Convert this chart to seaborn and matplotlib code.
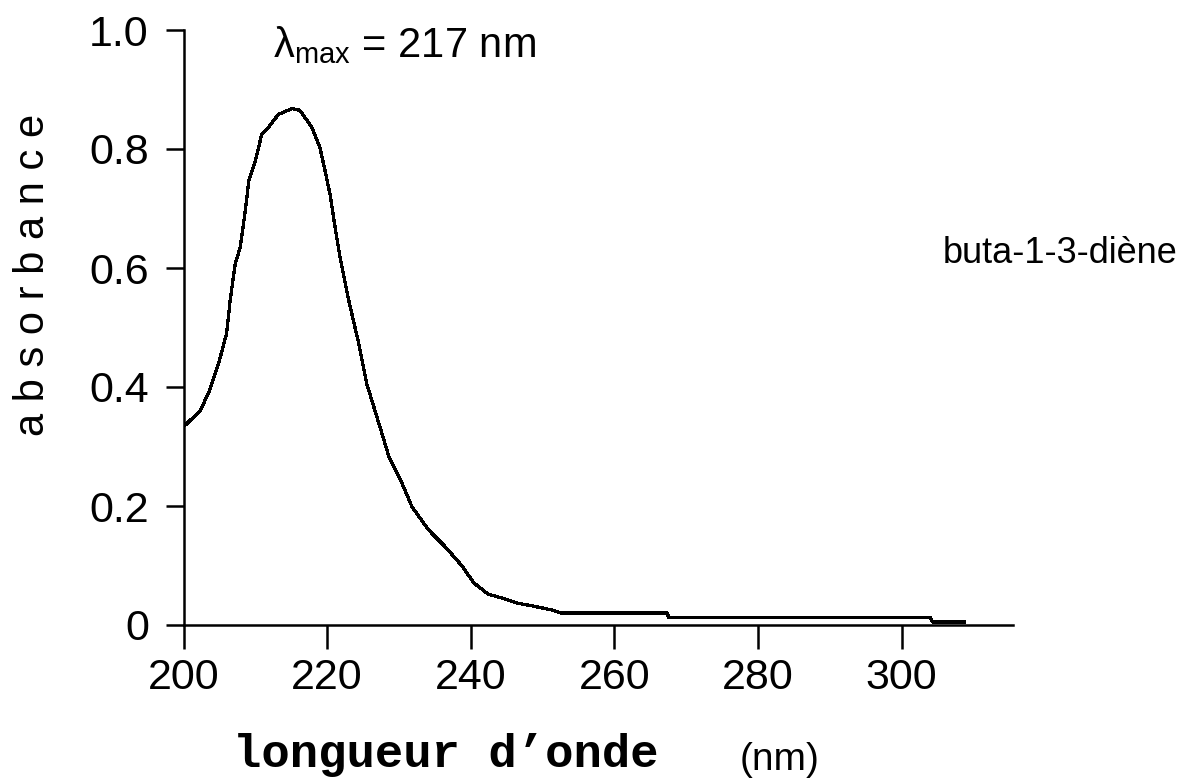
import numpy as np
import seaborn as sns
import matplotlib.pyplot as plt

# ── Data (buta-1,3-diène UV absorption) ──────────────────────────────────
WAVELENGTH = [200.0, 202.3, 203.5, 204.9, 206.0, 206.5, 207.2, 207.9, 208.6,
              209.1, 210.0, 210.9, 211.8, 213.2, 215.1, 216.2, 217.9, 219.0,
              219.7, 220.4, 221.1, 221.8, 223.0, 224.4, 225.5, 227.2, 228.6,
              230.4, 231.8, 234.1, 236.4, 238.8, 240.4, 242.4, 244.7, 246.4,
              248.6, 251.4, 252.6, 267.4, 267.5, 304.0, 304.3, 308.8]
ABSORBANCE = [0.333, 0.360, 0.390, 0.440, 0.490, 0.546, 0.607, 0.635, 0.696,
              0.747, 0.780, 0.825, 0.836, 0.858, 0.868, 0.865, 0.836, 0.802,
              0.764, 0.724, 0.669, 0.618, 0.546, 0.473, 0.406, 0.339, 0.283,
              0.239, 0.199, 0.160, 0.132, 0.099, 0.071, 0.052, 0.044, 0.037,
              0.032, 0.025, 0.020, 0.020, 0.013, 0.013, 0.005, 0.005]

X_TICKS = [200, 220, 240, 260, 280, 300]
Y_TICKS = [0, 0.2, 0.4, 0.6, 0.8, 1.0]
Y_TICK_LABELS = ["0", "0.2", "0.4", "0.6", "0.8", "1.0"]

# ── Style ────────────────────────────────────────────────────────────────
sns.set_style("ticks")
plt.rcParams.update({
    "font.family": ["Liberation Sans", "DejaVu Sans"],
    "axes.linewidth": 1.8,
    "axes.edgecolor": "black",
    "axes.labelcolor": "black",
    "text.color": "black",
    "xtick.color": "black",
    "ytick.color": "black",
    "savefig.facecolor": "white",
})

fig = plt.figure(figsize=(11.9, 7.81), dpi=100)
ax = fig.add_axes([183.5 / 1190, 1 - 625 / 781, (1013 - 183.5) / 1190, (625 - 30) / 781])

sns.lineplot(x=WAVELENGTH, y=ABSORBANCE, ax=ax, color="black", linewidth=1.6,
             estimator=None, sort=False, antialiased=False)

ax.set_xlim(200, 315.5)
ax.set_ylim(0, 1.0)
ax.set_xticks(X_TICKS)
ax.set_xticklabels([str(t) for t in X_TICKS])
ax.set_yticks(Y_TICKS)
ax.set_yticklabels(Y_TICK_LABELS)
sns.despine(ax=ax)

ax.tick_params(axis="x", length=17, width=1.8, pad=7, labelsize=31)
ax.tick_params(axis="y", length=13, width=1.8, pad=12, labelsize=31)

# axis labels
ax.set_ylabel("a b s o r b a n c e", fontsize=30, ha="center", va="center")
ax.yaxis.set_label_coords(-0.1814, 0.588)
ax.set_xlabel("longueur d\u2019onde", fontsize=34, fontfamily="Liberation Mono",
              fontweight="bold", ha="left", va="baseline")
ax.xaxis.set_label_coords(0.0597, -0.2387)
ax.text(0.6709, -0.2437, "(nm)", transform=ax.transAxes, fontsize=28,
        ha="left", va="baseline", clip_on=False)

# annotations
ax.text(0.108, 0.9546, "λ$_{\\mathregular{max}}$ = 217 nm", transform=ax.transAxes,
        fontsize=30, ha="left", va="baseline")
ax.text(0.9156, 0.6084, "buta-1-3-diène", transform=ax.transAxes, fontsize=26,
        ha="left", va="baseline", clip_on=False)

fig.savefig("out.png", dpi=100, facecolor="white")
plt.close(fig)
